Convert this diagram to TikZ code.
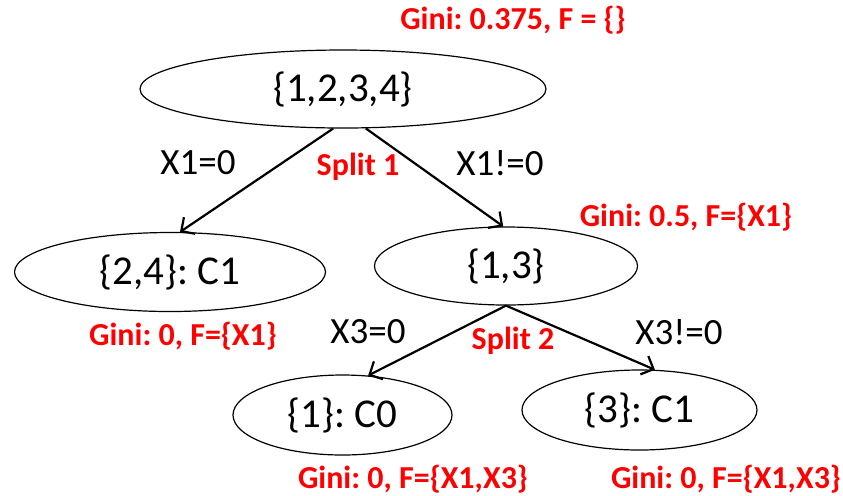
\documentclass[tikz,border=0pt]{standalone}
\usepackage{fontspec}
\setmainfont{Carlito}
\usepackage{tikz}
\usetikzlibrary{shapes.geometric, arrows.meta}
\definecolor{ginired}{RGB}{255,0,0}
\frenchspacing

\begin{document}
\begin{tikzpicture}[
    x=0.5pt, y=-0.5pt,
    setnode/.style={ellipse, draw, line width=0.6pt, inner sep=0pt, font=\fontsize{20.5}{24}\selectfont},
    branch/.style={-{Straight Barb[length=5pt, width=10pt]}, line width=1.1pt},
    cond/.style={font=\fontsize{18.5}{22}\selectfont},
    gini/.style={text=ginired, font=\bfseries\fontsize{16}{19}\selectfont}
]
\useasboundingbox (0,0) rectangle (843,495);

% Root
\node[setnode, minimum width=203pt, minimum height=39pt] (root) at (343,89) {\{1,2,3,4\}};
\node[gini] (giniroot) at (513,20) {Gini: 0.375, F = \{\}};

% First level
\node[setnode, minimum width=155.5pt, minimum height=39.5pt] (left) at (170,272) {\{2,4\}: C1};
\node[setnode, minimum width=131.5pt, minimum height=39pt] (right) at (506,266) {\{1,3\}};
\node[gini] (ginileft) at (183,336) {Gini: 0, F=\{X1\}};
\node[gini] (giniright) at (686,217) {Gini: 0.5, F=\{X1\}};

% Second level
\node[setnode, minimum width=109.5pt, minimum height=40pt] (leafa) at (342.5,415) {\{1\}: C0};
\node[setnode, minimum width=117.5pt, minimum height=40pt] (leafb) at (639.5,410) {\{3\}: C1};
\node[gini] (ginia) at (413,479) {Gini: 0, F=\{X1,X3\}};
\node[gini] (ginib) at (726,479) {Gini: 0, F=\{X1,X3\}};

% Split 1
\draw[branch] (root.256) -- (left.76);
\draw[branch] (root.300) -- (right.94);
\node[cond] (xonezero) at (198,163) {X1=0};
\node[cond] (xonenot) at (500,163) {X1!=0};
\node[gini] (splitone) at (358,167) {Split 1};

% Split 2
\draw[branch] (right.south) -- (leafa.57);
\draw[branch] (right.south) -- (leafb.69);
\node[cond] (xthreezero) at (368,332) {X3=0};
\node[cond] (xthreenot) at (679,332) {X3!=0};
\node[gini] (splittwo) at (513,341) {Split 2};

\end{tikzpicture}
\end{document}
